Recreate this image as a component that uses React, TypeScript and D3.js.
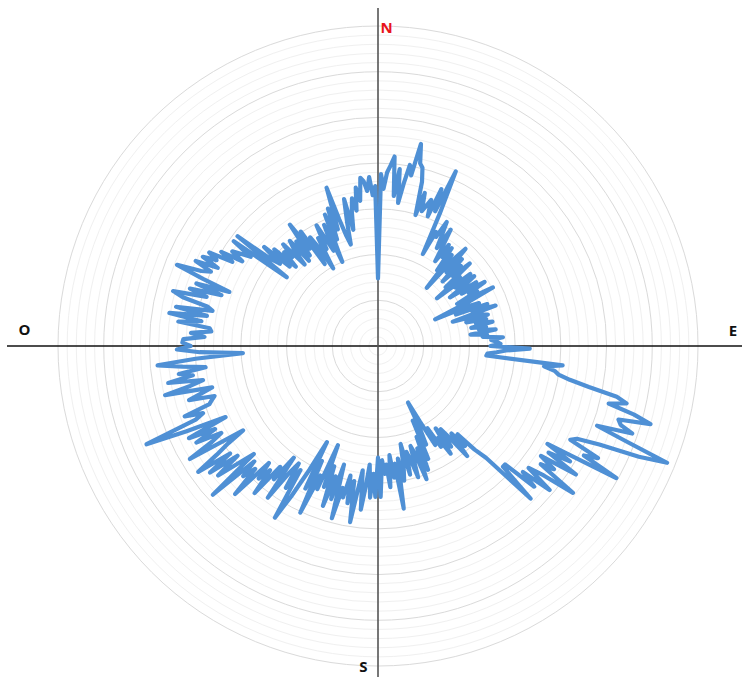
import React from "react";
import * as d3 from "d3";

// Radial values (one per degree, clockwise from North)
const values: number[] = [
  // 0-9
  7.4, 18.8, 17.2, 19.0, 19.8, 20.8, 16.5, 19.5, 15.8, 18.0,
  // 10-19
  20.1, 19.0, 22.6, 20.5, 20.1, 18.6, 14.9, 17.5, 15.5, 16.2,
  // 20-29
  17.0, 15.2, 18.5, 16.0, 20.9, 16.0, 11.2, 14.0, 13.5, 15.5,
  // 30-39
  14.0, 12.5, 15.0, 13.0, 11.2, 13.5, 12.0, 13.4, 10.5, 12.8,
  // 40-49
  8.3, 12.5, 14.3, 11.0, 13.2, 10.0, 12.6, 11.2, 13.5, 9.8,
  // 50-59
  11.7, 8.3, 12.8, 10.6, 13.0, 11.5, 9.5, 12.8, 10.8, 13.6,
  // 60-69
  11.5, 12.4, 9.8, 14.1, 11.0, 6.9, 10.5, 12.0, 9.2, 12.8,
  // 70-79
  11.0, 13.6, 8.6, 11.8, 12.5, 10.0, 12.2, 11.0, 12.8, 10.4,
  // 80-89
  12.0, 11.2, 13.0, 10.2, 12.0, 11.5, 13.7, 12.4, 13.0, 13.4,
  // 90-99
  12.3, 16.6, 14.0, 13.0, 12.0, 11.9, 20.3, 18.3, 19.5, 20.0,
  // 100-109
  21.3, 23.5, 26.7, 27.9, 26.0, 29.0, 31.0, 27.5, 27.9, 29.4,
  // 110-119
  25.5, 29.0, 34.1, 31.0, 26.5, 24.0, 23.4, 27.0, 25.5, 29.8,
  // 120-129
  21.4, 24.5, 22.0, 25.8, 21.5, 23.5, 22.0, 26.7, 23.0, 21.2,
  // 130-139
  24.5, 21.0, 23.0, 19.0, 19.0, 23.6, 17.0, 15.5, 13.0, 14.5,
  // 140-149
  12.5, 15.5, 12.8, 11.4, 13.6, 11.0, 14.2, 12.0, 13.0, 10.5,
  // 150-159
  12.5, 9.5, 7.0, 10.0, 12.0, 9.0, 13.5, 10.8, 14.6, 12.0,
  // 160-169
  15.5, 12.5, 11.5, 15.0, 13.0, 12.0, 14.5, 11.0, 13.5, 15.0,
  // 170-179
  12.5, 18.0, 13.0, 14.5, 12.0, 15.5, 13.0, 14.0, 12.5, 16.5,
  // 180-189
  12.2, 16.5, 14.0, 16.6, 13.0, 15.5, 18.0, 13.7, 16.0, 19.5,
  // 190-199
  15.0, 17.5, 14.5, 17.0, 16.0, 19.5, 13.5, 17.5, 15.0, 18.5,
  // 200-209
  14.0, 16.5, 11.7, 17.0, 15.5, 20.1, 14.0, 17.5, 11.9, 15.5,
  // 210-219
  19.0, 21.9, 16.0, 18.5, 15.5, 17.0, 20.5, 15.3, 18.5, 17.0,
  // 220-229
  21.0, 18.0, 19.5, 17.5, 22.5, 19.0, 20.5, 18.5, 24.3, 18.0,
  // 230-239
  20.0, 22.5, 19.5, 23.0, 20.0, 24.0, 21.3, 19.5, 17.4, 24.0,
  // 240-249
  21.0, 19.6, 22.5, 20.0, 23.0, 18.4, 23.0, 27.5, 21.5, 20.5,
  // 250-259
  22.5, 19.5, 19.1, 18.7, 21.5, 20.0, 18.7, 23.9, 21.0, 19.5,
  // 260-269
  23.3, 20.5, 22.0, 19.0, 21.5, 24.2, 20.0, 14.8, 19.5, 22.0,
  // 270-279
  20.5, 21.4, 21.3, 19.0, 20.5, 18.3, 18.5, 22.0, 19.5, 23.1,
  // 280-289
  19.0, 22.5, 18.5, 19.1, 22.0, 23.2, 19.5, 21.5, 18.0, 21.0,
  // 290-299
  17.3, 20.5, 23.7, 21.0, 20.0, 22.0, 19.5, 21.5, 20.0, 21.1,
  // 300-309
  18.4, 20.0, 17.5, 19.0, 18.0, 17.0, 19.5, 12.5, 19.5, 15.2,
  // 310-319
  14.0, 16.5, 13.0, 15.5, 12.5, 14.5, 13.5, 15.2, 12.0, 14.0,
  // 320-329
  15.0, 12.0, 14.5, 12.4, 16.4, 13.0, 15.1, 10.7, 14.0, 12.5,
  // 330-339
  9.8, 13.5, 12.0, 14.8, 13.0, 11.5, 14.5, 10.0, 15.5, 12.5,
  // 340-349
  16.0, 13.5, 18.2, 14.5, 12.5, 11.5, 14.0, 16.5, 13.0, 15.0,
  // 350-359
  16.4, 15.0, 17.5, 16.0, 18.5, 18.1, 17.0, 18.5, 16.5, 17.5,
];

const ringTicks: number[] = d3.range(1, 36); // minor rings 1..35, major every 5
const compassLabels: string[] = ["N", "E", "S", "O"];

const W = 742;
const H = 677;
const cx = 378;
const cy = 346;
const R = 320;

export default function App() {
  const r = d3.scaleLinear().domain([0, 35]).range([0, R]);
  const angle = d3
    .scaleLinear()
    .domain([0, values.length])
    .range([0, 2 * Math.PI]);

  const line = d3
    .lineRadial<number>()
    .angle((_, i) => angle(i))
    .radius((d) => r(d))
    .curve(d3.curveLinearClosed);

  const labelPos: Record<string, { x: number; y: number; color: string }> = {
    N: { x: 386.5, y: 33, color: "#e8141c" },
    E: { x: 733, y: 336, color: "#111" },
    S: { x: 363.5, y: 672, color: "#111" },
    O: { x: 24.5, y: 335, color: "#111" },
  };

  return (
    <svg
      width={W}
      height={H}
      style={{ position: "absolute", left: 0, top: 0, background: "#fff" }}
    >
      <g transform={`translate(${cx},${cy})`}>
        {ringTicks
          .filter((t) => t % 5 !== 0)
          .map((t) => (
            <circle
              key={"m" + t}
              r={r(t)}
              fill="none"
              stroke="#f0f0f0"
              strokeWidth={1}
            />
          ))}
        {ringTicks
          .filter((t) => t % 5 === 0)
          .map((t) => (
            <circle
              key={"M" + t}
              r={r(t)}
              fill="none"
              stroke="#dadada"
              strokeWidth={1}
            />
          ))}
      </g>
      <line x1={7} x2={742} y1={cy} y2={cy} stroke="#111" strokeWidth={1.4} />
      <line x1={cx} x2={cx} y1={8} y2={677} stroke="#555" strokeWidth={1.6} />
      <g transform={`translate(${cx},${cy})`}>
        <path
          d={line(values) || ""}
          fill="none"
          stroke="#4f90d5"
          strokeWidth={4.2}
          strokeLinejoin="round"
          strokeLinecap="round"
        />
      </g>
      {compassLabels.map((l) => (
        <text
          key={l}
          x={labelPos[l].x}
          y={labelPos[l].y}
          textAnchor="middle"
          fontFamily="'Open Sans', 'DejaVu Sans', sans-serif"
          fontWeight={700}
          fontSize={15}
          fill={labelPos[l].color}
        >
          {l}
        </text>
      ))}
    </svg>
  );
}
